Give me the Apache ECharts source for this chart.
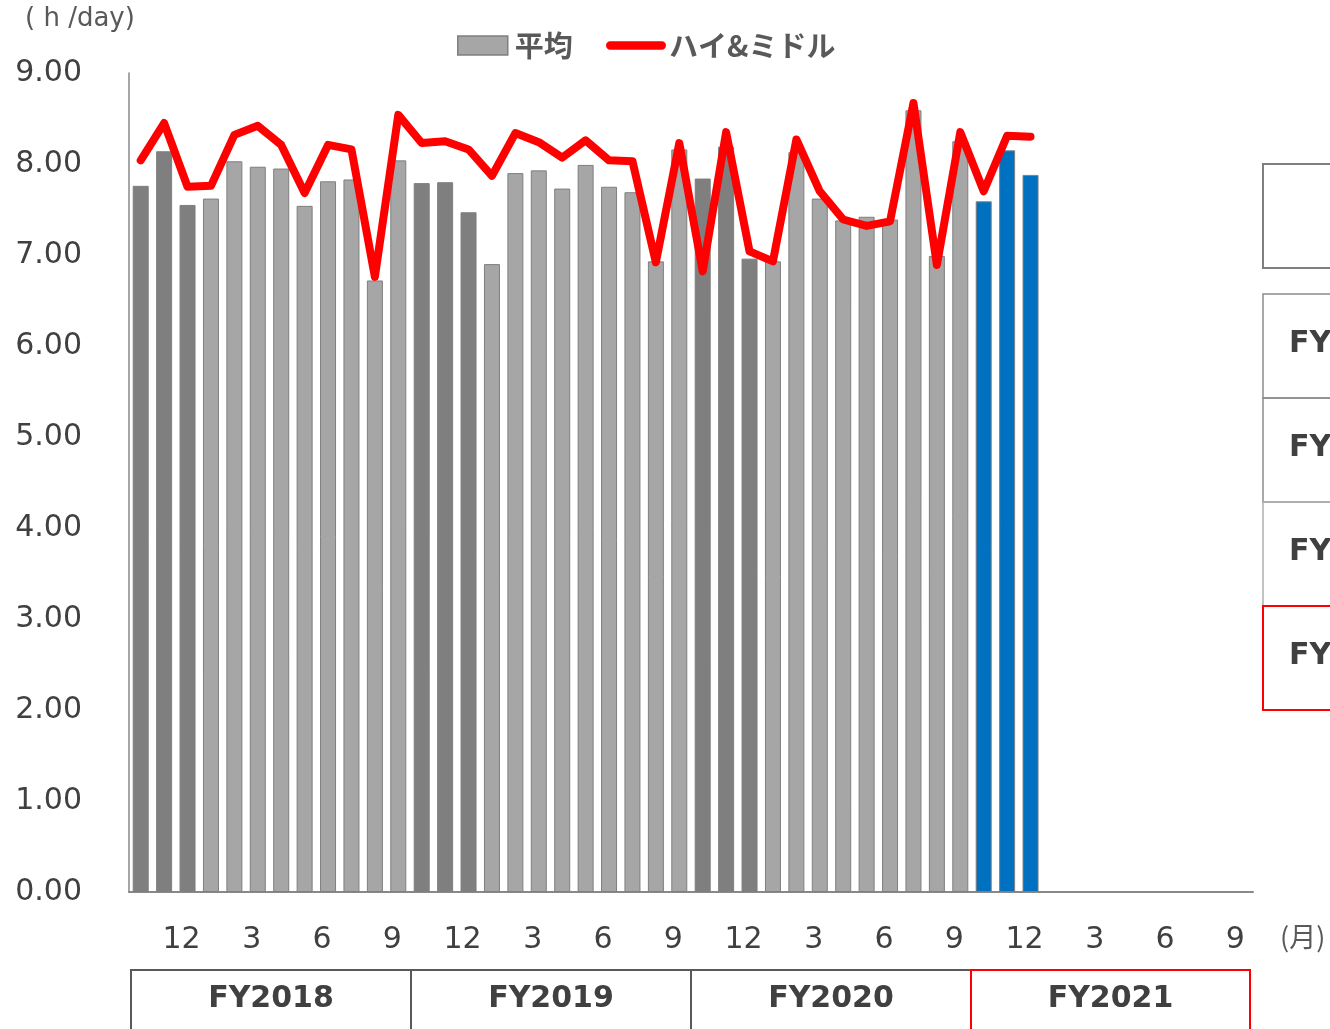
<!DOCTYPE html>
<html>
<head>
<meta charset="utf-8">
<script src="https://cdn.jsdelivr.net/npm/echarts@6/dist/echarts.min.js"></script>
<style>
html,body{margin:0;padding:0;background:#fff;}
#chart{width:1330px;height:1029px;}
</style>
</head>
<body>
<div id="chart"></div>
<script>
// ---- data ----
var fiscalYears = ['FY2018', 'FY2019', 'FY2020', 'FY2021'];
var fyMonths = ['10', '11', '12', '1', '2', '3', '4', '5', '6', '7', '8', '9'];
var tickMonths = ['12', '3', '6', '9'];
var seriesNames = ['平均', 'ハイ&ミドル'];

// 平均 (average), Oct 2018 .. Dec 2021
var average = [
  7.76, 8.14, 7.55, 7.62, 8.03, 7.97, 7.95, 7.54, 7.81, 7.83, 6.72, 8.04,
  7.79, 7.80, 7.47, 6.90, 7.90, 7.93, 7.73, 7.99, 7.75, 7.69, 6.93, 8.16,
  7.84, 8.19, 6.96, 6.93, 8.13, 7.62, 7.38, 7.42, 7.39, 8.59, 6.99, 8.25,
  7.59, 8.15, 7.88
];
// ハイ&ミドル (high & middle)
var highMiddle = [
  8.04, 8.45, 7.75, 7.76, 8.32, 8.42, 8.21, 7.68, 8.21, 8.16, 6.76, 8.54,
  8.23, 8.25, 8.16, 7.87, 8.34, 8.24, 8.07, 8.26, 8.04, 8.03, 6.92, 8.23,
  6.82, 8.35, 7.04, 6.93, 8.27, 7.70, 7.39, 7.32, 7.37, 8.67, 6.89, 8.35,
  7.70, 8.31, 8.30
];

// categories: every month of every fiscal year
var categories = [];
fiscalYears.forEach(function (fy) {
  fyMonths.forEach(function (m) { categories.push(fy + '-' + m); });
});

// ---- styles ----
var TXT = '#404040';
var FONT = '"DejaVu Sans", Verdana, sans-serif';
var CJK = '"Noto Sans CJK JP", "DejaVu Sans", sans-serif';
var lastFY = fiscalYears[fiscalYears.length - 1];

function barColor(params) {
  var cat = categories[params.dataIndex];
  var fy = cat.split('-')[0];
  var m = cat.split('-')[1];
  if (fy === lastFY) return '#0070c0';
  if (m === '10' || m === '11' || m === '12') return '#7f7f7f';
  return '#a6a6a6';
}

var chart = echarts.init(document.getElementById('chart'), null, {renderer: 'canvas'});

// decorative graphics
var graphics = [];
graphics.push({type: 'text', left: 25, top: 6, style: {text: '( h /day)', font: '26px ' + FONT, fill: '#595959'}});
graphics.push({type: 'text', left: 1280, top: 923, style: {text: '(月)', font: '27px ' + CJK, fill: '#595959'}});

// bottom fiscal-year boxes
var fyX = [131, 411, 691, 971, 1250];
for (var i = 0; i < fiscalYears.length; i++) {
  var red = fiscalYears[i] === lastFY;
  graphics.push({
    type: 'rect', z: red ? 12 : 10,
    shape: {x: fyX[i], y: 970, width: fyX[i + 1] - fyX[i], height: 100},
    style: {fill: 'none', stroke: red ? '#ff0000' : '#595959', lineWidth: 2}
  });
  graphics.push({
    type: 'text', z: 13,
    x: (fyX[i] + fyX[i + 1]) / 2, y: 999,
    style: {text: fiscalYears[i], font: 'bold 30px ' + FONT, fill: TXT, align: 'center', verticalAlign: 'middle'}
  });
}

// right-side partial table (clipped by the page edge)
graphics.push({type: 'rect', shape: {x: 1263, y: 164, width: 120, height: 104},
  style: {fill: 'none', stroke: '#7f7f7f', lineWidth: 2}});
var sideStroke = ['#8c8c8c', '#8c8c8c', '#b0b0b0', '#ff0000'];
for (var j = 0; j < 4; j++) {
  var y0 = 294 + j * 104;
  graphics.push({type: 'rect', z: j === 3 ? 12 : 10, shape: {x: 1263, y: y0, width: 120, height: 104},
    style: {fill: 'none', stroke: sideStroke[j], lineWidth: j === 3 ? 2 : 1.5}});
  graphics.push({type: 'text', z: 13, x: 1289, y: y0 + 50,
    style: {text: 'FY', font: 'bold 30px ' + FONT, fill: TXT, verticalAlign: 'middle'}});
}

var option = {
  backgroundColor: '#ffffff',
  animation: false,
  grid: {left: 129, right: 77, top: 73, bottom: 137, containLabel: false},
  legend: [
    {
      data: [{name: seriesNames[0], icon: 'rect', itemStyle: {color: '#a6a6a6', borderColor: '#7f7f7f', borderWidth: 1.5}}],
      left: 452, top: 26, itemWidth: 50, itemHeight: 19, itemGap: 0,
      textStyle: {fontFamily: CJK, fontSize: 29, fontWeight: 'bold', color: '#595959', padding: [0, 0, 0, 2]}
    },
    {
      data: [{name: seriesNames[1],
        icon: 'path://M4,0 L54,0 A4,4 0 0 1 54,8 L4,8 A4,4 0 0 1 4,0 Z',
        itemStyle: {color: '#ff0000', borderWidth: 0}}],
      left: 601, top: 26, itemWidth: 60, itemHeight: 9, itemGap: 0,
      textStyle: {fontFamily: CJK, fontSize: 29, fontWeight: 'bold', color: '#595959', padding: [0, 0, 0, -2]}
    }
  ],
  xAxis: {
    type: 'category',
    data: categories,
    boundaryGap: true,
    axisLine: {show: true, lineStyle: {color: '#888888', width: 2}},
    axisTick: {show: false},
    axisLabel: {
      interval: 0,
      margin: 33,
      padding: [0, 12, 0, 0],
      fontFamily: FONT, fontSize: 30, color: TXT,
      formatter: function (v) {
        var m = v.split('-')[1];
        return tickMonths.indexOf(m) >= 0 ? m : '';
      }
    },
    splitLine: {show: false}
  },
  yAxis: {
    type: 'value',
    min: 0, max: 9, interval: 1,
    axisLine: {show: true, lineStyle: {color: '#888888', width: 1.5}},
    axisTick: {show: false},
    splitLine: {show: false},
    axisLabel: {
      margin: 47,
      fontFamily: FONT, fontSize: 30, color: TXT,
      padding: [0, 0, 8, 0],
      formatter: function (v) { return v.toFixed(2); }
    }
  },
  series: [
    {
      name: seriesNames[0],
      type: 'bar',
      data: average,
      barWidth: 16,
      itemStyle: {color: barColor, borderColor: '#7f7f7f', borderWidth: 1},
      z: 2
    },
    {
      name: seriesNames[1],
      type: 'line',
      data: highMiddle,
      symbol: 'none',
      smooth: false,
      lineStyle: {color: '#ff0000', width: 8, join: 'round', cap: 'round'},
      itemStyle: {color: '#ff0000'},
      z: 5
    }
  ],
  graphic: graphics
};
chart.setOption(option);
</script>
</body>
</html>
